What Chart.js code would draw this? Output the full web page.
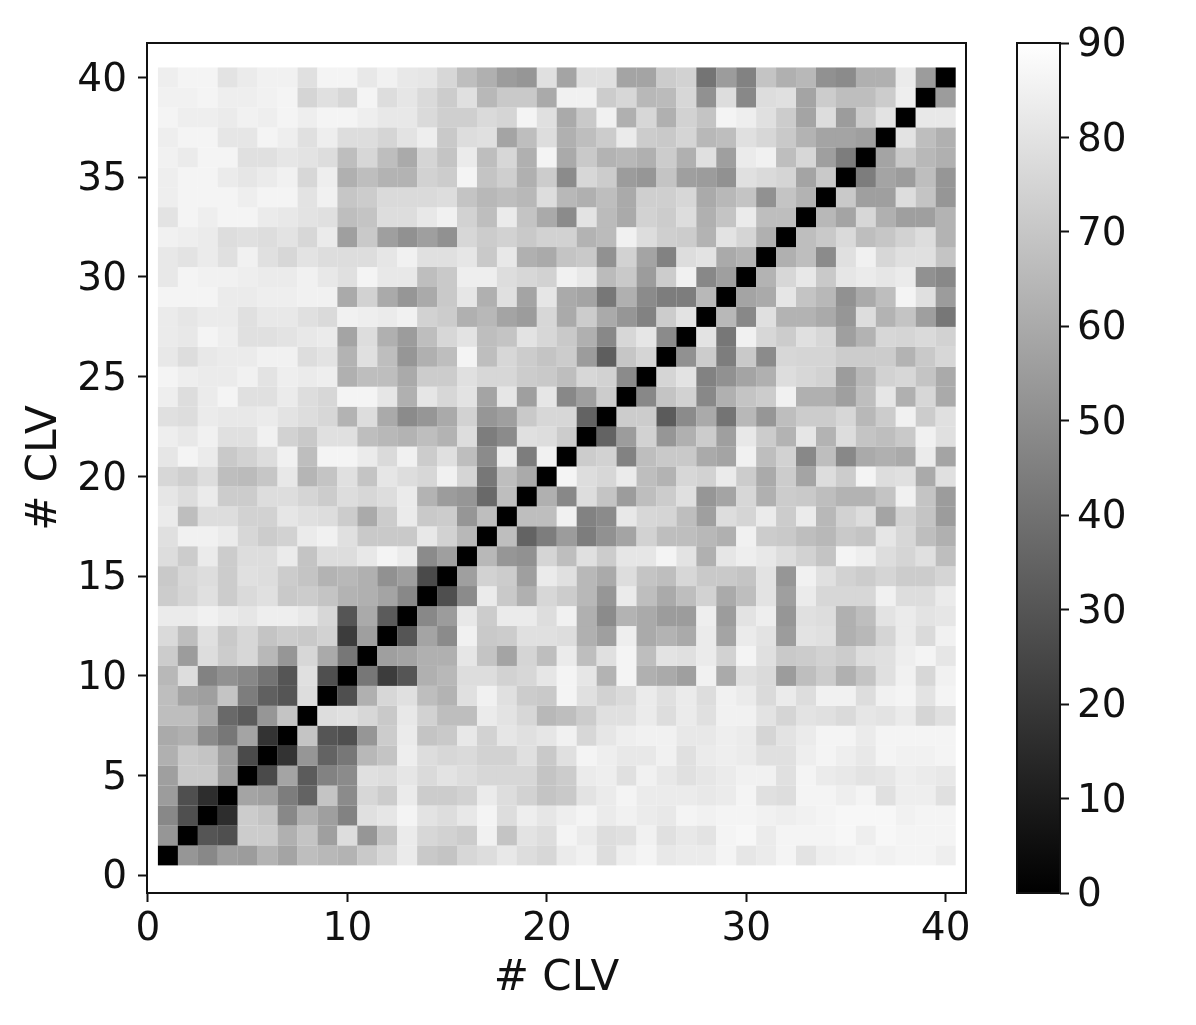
<!DOCTYPE html>
<html><head><meta charset="utf-8">
<script src="https://cdn.jsdelivr.net/npm/chart.js@4"></script>
<style>
html,body{margin:0;padding:0;background:#fff;width:1196px;height:1025px;overflow:hidden}
canvas{position:absolute;top:0;filter:blur(0.5px)}
#m{left:0}#c{left:1000px}
</style></head><body>
<canvas id="m" width="1196" height="1025"></canvas>
<canvas id="c" width="196" height="1025"></canvas>
<script>
const xTicks=[0,10,20,30,40];
const yTicks=[0,5,10,15,20,25,30,35,40];
const barTicks=[0,10,20,30,40,50,60,70,80,90];
const axisTitle='# CLV';
const row01=[0,53,48,56,55,63,58,67,65,63,71,76,83,71,69,76,78,82,78,76,83,85,78,84,86,82,83,83,86,81,83,86,80,84,85,86,85,86,86,84];
const row02=[53,0,30,28,72,72,62,69,56,78,53,69,83,76,74,72,85,69,80,78,86,83,78,79,85,79,82,80,86,87,83,86,86,86,87,84,87,86,86,86];
const row03=[48,28,0,16,72,69,48,62,56,46,79,81,86,80,78,82,86,78,84,81,84,86,83,85,83,82,86,85,86,86,85,84,85,86,87,87,87,85,86,86];
const row04=[55,28,16,0,58,56,44,35,69,49,76,72,83,72,72,74,83,78,74,69,71,80,83,86,83,83,83,82,83,86,79,78,86,86,84,86,79,84,84,79];
const row05=[56,71,71,56,0,26,58,32,46,49,79,78,81,77,80,78,76,76,76,69,72,83,84,79,85,82,79,81,83,85,85,79,86,83,82,80,81,84,83,82];
const row06=[62,71,69,56,26,0,18,53,35,42,65,69,84,78,76,77,74,74,79,71,79,86,84,82,82,85,79,83,84,83,79,79,84,86,84,82,86,85,85,86];
const row07=[60,62,49,42,58,18,0,69,30,28,53,72,83,69,71,82,74,81,79,81,85,76,81,84,85,85,82,82,84,83,75,80,83,86,86,83,86,86,86,86];
const row08=[67,67,60,37,32,53,69,0,78,79,76,71,82,74,67,67,83,80,76,65,67,72,79,79,83,78,83,79,85,85,80,75,80,79,77,81,80,83,75,79];
const row09=[67,58,56,69,44,34,30,78,0,28,62,76,79,67,63,79,85,79,72,71,86,79,74,77,83,79,83,78,85,83,77,83,78,85,85,78,85,86,80,86];
const row10=[65,78,46,51,48,41,30,79,28,0,42,21,30,62,65,78,78,74,76,81,86,81,63,86,62,60,56,85,60,79,77,55,67,72,62,69,79,85,76,85];
const row11=[72,55,78,72,76,65,53,76,60,42,0,56,58,62,62,81,69,58,75,67,83,67,79,86,67,80,79,83,74,86,79,71,72,74,72,78,79,84,86,81];
const row12=[77,67,79,71,76,69,72,71,74,21,56,0,30,58,49,85,71,72,79,79,78,62,56,84,60,63,60,83,58,83,80,55,80,79,62,65,75,83,77,85];
const row13=[83,83,85,83,81,84,84,82,76,30,60,32,0,48,55,82,72,83,83,78,85,62,49,63,60,55,55,84,55,80,84,53,79,78,62,67,80,83,80,81];
const row14=[72,75,79,72,77,79,71,72,69,63,62,58,48,0,28,49,83,71,62,76,72,65,53,83,67,60,67,74,60,67,80,56,83,76,76,76,85,78,78,83];
const row15=[71,76,78,72,79,78,72,69,63,65,62,51,56,26,0,56,74,72,56,83,79,65,60,78,69,67,76,71,71,69,80,53,85,79,74,72,75,72,72,75];
const row16=[78,72,83,72,78,78,83,69,78,78,82,86,83,49,56,0,65,53,51,75,67,79,72,81,81,86,80,62,81,84,82,78,74,69,86,84,78,75,79,67];
const row17=[79,85,85,83,76,72,74,83,85,79,71,71,71,82,74,65,0,67,35,44,55,44,51,58,74,67,67,65,62,85,72,71,67,65,71,69,81,76,67,62];
const row18=[83,67,78,78,74,74,81,79,78,72,60,72,83,71,72,53,67,0,67,67,85,46,49,82,76,75,67,56,78,75,83,72,83,65,74,78,58,74,69,55];
const row19=[81,78,83,72,72,78,78,75,72,78,76,78,83,63,55,53,37,67,0,62,48,78,69,55,67,72,79,53,58,76,62,72,71,67,63,63,69,85,69,55];
const row20=[76,73,78,67,66,70,82,64,69,79,69,81,78,76,85,75,42,67,60,0,86,78,76,83,67,63,76,74,83,72,60,72,58,78,72,86,78,79,60,79];
const row21=[81,86,83,71,74,78,85,67,86,86,83,77,85,72,79,67,49,83,44,85,0,72,74,46,67,71,71,60,58,85,67,74,48,67,48,60,62,60,83,58];
const row22=[84,82,85,79,79,85,74,71,79,79,67,65,63,67,63,78,44,49,79,78,72,0,35,55,74,53,62,72,56,82,72,63,81,63,78,69,67,71,85,79];
const row23=[79,78,83,82,82,83,80,78,76,63,78,60,49,53,60,74,53,56,71,76,76,35,0,72,72,32,49,60,41,65,53,67,72,72,76,65,72,85,72,79];
const row24=[84,78,83,86,79,79,83,78,76,86,86,81,62,81,76,80,58,81,56,81,48,56,72,0,48,69,74,48,62,69,72,85,62,62,56,67,81,62,76,60];
const row25=[86,84,83,83,85,80,84,83,84,62,67,67,60,72,72,79,76,76,72,71,67,76,74,49,0,75,80,46,51,58,62,78,76,74,55,65,74,76,69,60];
const row26=[82,78,82,83,83,85,85,78,80,63,79,67,53,62,67,86,67,76,72,69,72,55,33,70,75,0,51,72,44,71,49,76,75,75,72,72,72,63,71,76];
const row27=[83,82,86,84,79,79,80,82,83,58,78,62,55,67,76,80,67,69,80,76,71,62,48,76,81,49,0,80,42,85,76,72,79,76,56,63,76,75,77,74];
const row28=[83,81,83,83,79,82,82,79,77,85,84,83,85,74,72,62,65,58,55,76,60,72,60,53,46,72,80,0,65,48,79,63,63,60,53,78,63,69,56,42];
const row29=[86,86,86,83,83,84,84,85,85,60,74,60,53,60,71,81,62,79,58,81,60,58,42,62,49,44,44,65,0,58,60,81,69,65,51,60,67,86,79,55];
const row30=[82,86,85,85,84,83,83,85,82,79,86,82,82,67,71,84,84,78,76,74,85,82,66,71,55,72,85,48,56,0,63,76,82,71,81,83,81,83,51,48];
const row31=[82,80,83,79,85,79,76,80,78,78,78,81,85,79,79,81,71,82,62,60,69,71,51,74,58,46,78,80,60,63,0,62,67,49,79,85,76,79,79,69];
const row32=[85,84,83,78,79,78,80,76,83,56,71,56,51,56,51,76,72,74,71,74,74,63,66,85,78,73,72,63,80,75,62,0,67,71,77,67,70,74,78,63];
const row33=[80,86,84,86,86,83,82,80,79,67,69,78,78,82,85,74,67,83,69,60,49,80,66,60,74,72,78,62,69,83,67,67,0,65,58,76,62,56,56,63];
const row34=[84,86,86,86,84,86,86,80,85,70,72,77,77,77,78,69,65,67,65,78,65,62,67,60,73,73,76,60,65,69,51,69,63,0,71,56,56,78,69,53];
const row35=[84,86,86,83,81,83,85,76,84,62,67,63,63,74,72,86,69,73,62,72,49,76,72,55,53,69,56,55,51,79,77,75,58,71,0,44,58,55,67,53];
const row36=[85,83,86,86,79,79,81,80,78,67,76,67,60,75,69,83,67,76,62,86,60,71,63,65,62,72,62,79,56,83,85,67,76,56,44,0,58,71,65,62];
const row37=[84,86,86,81,81,86,84,79,84,78,78,75,80,84,71,78,79,58,67,78,62,67,72,83,72,71,75,65,67,79,76,71,63,58,58,56,0,80,67,62];
const row38=[86,84,84,83,85,84,86,84,86,86,84,82,82,77,73,73,77,75,86,79,60,71,85,62,76,62,74,69,86,84,79,72,58,78,55,72,80,0,82,82];
const row39=[85,85,86,84,84,85,86,75,79,76,86,78,81,77,72,79,65,71,71,60,85,85,72,76,65,66,76,51,78,48,78,79,58,72,67,67,72,84,0,55];
const row40=[84,86,86,80,83,85,85,79,86,86,82,85,82,81,76,67,62,55,53,79,58,79,79,58,58,72,74,41,55,46,69,62,65,51,49,62,62,83,55,0];
const rows=[row01,row02,row03,row04,row05,row06,row07,row08,row09,row10,row11,row12,row13,row14,row15,row16,row17,row18,row19,row20,row21,row22,row23,row24,row25,row26,row27,row28,row29,row30,row31,row32,row33,row34,row35,row36,row37,row38,row39,row40];

const VMAX=90;
const gray=v=>{const g=Math.round(v/VMAX*255);return `rgb(${g},${g},${g})`;};
const FONT='"DejaVu Sans"';
const cells=[];
rows.forEach((r,i)=>r.forEach((v,j)=>cells.push({x:j+1,y:i+1,v})));
const frame={id:'frame',afterDatasetsDraw(ch){const a=ch.chartArea,c=ch.ctx;c.save();c.strokeStyle='#111';c.lineWidth=2;c.strokeRect(a.left,a.top,a.right-a.left,a.bottom-a.top);c.restore();}};
const fixedTicks=list=>s=>{s.ticks=list.map(value=>({value}));};
const nudgeLabels=dy=>s=>{
  if(s._nudged||!s._computeLabelItems)return;
  s._nudged=true;
  const orig=s._computeLabelItems.bind(s);
  s._computeLabelItems=a=>orig(a).map(it=>{it.textOffset=(it.textOffset||0)+dy;return it;});
};
const tickFont={family:FONT,size:39};
const titleFont={family:FONT,size:42};
new Chart(document.getElementById('m'),{
  type:'scatter',
  data:{datasets:[{data:cells,pointStyle:'rect',borderWidth:0,pointBorderWidth:0,
    pointRadius:14.2,pointHoverRadius:14.2,
    pointBackgroundColor:c=>gray(c.raw.v),backgroundColor:c=>gray(c.raw.v)}]},
  options:{responsive:false,animation:false,events:[],
    layout:{padding:{left:0,top:43,right:230,bottom:0}},
    plugins:{legend:{display:false},tooltip:{enabled:false}},
    scales:{
      x:{type:'linear',min:-0.05,max:41.02,afterBuildTicks:fixedTicks(xTicks),
        afterFit:s=>{s.height=132;},
        border:{display:false},
        grid:{drawOnChartArea:false,drawTicks:true,tickLength:9,tickWidth:2,tickColor:'#111'},
        ticks:{font:tickFont,color:'#111',maxRotation:0,padding:4,autoSkip:false},
        title:{display:true,text:axisTitle,font:titleFont,color:'#111',padding:{top:0,bottom:21}}},
      y:{type:'linear',min:-0.888,max:41.73,afterBuildTicks:fixedTicks(yTicks),
        afterFit:s=>{s.width=147;},afterUpdate:nudgeLabels(3),
        border:{display:false},
        grid:{drawOnChartArea:false,drawTicks:true,tickLength:9,tickWidth:2,tickColor:'#111'},
        ticks:{font:tickFont,color:'#111',padding:11,autoSkip:false},
        title:{display:true,text:axisTitle,font:titleFont,color:'#111',padding:{top:20,bottom:0}}}
    }},
  plugins:[frame]
});
new Chart(document.getElementById('c'),{
  type:'bar',
  data:{labels:[''],datasets:[{data:[[0,VMAX]],barPercentage:1,categoryPercentage:1,borderWidth:0,
    backgroundColor:c=>{const a=c.chart.chartArea;if(!a)return '#888';
      const g=c.chart.ctx.createLinearGradient(0,a.bottom,0,a.top);g.addColorStop(0,'#000');g.addColorStop(1,'#fff');return g;}}]},
  options:{responsive:false,animation:false,events:[],
    layout:{padding:{left:17,top:43,right:0,bottom:132}},
    plugins:{legend:{display:false},tooltip:{enabled:false}},
    scales:{
      x:{display:false},
      y:{position:'right',min:0,max:VMAX,afterBuildTicks:fixedTicks(barTicks),
        afterFit:s=>{s.width=136;},afterUpdate:nudgeLabels(3),
        border:{display:false},
        grid:{drawOnChartArea:false,drawTicks:true,tickLength:9,tickWidth:2,tickColor:'#111'},
        ticks:{font:tickFont,color:'#111',padding:8,autoSkip:false}}
    }},
  plugins:[frame]
});
</script></body></html>
